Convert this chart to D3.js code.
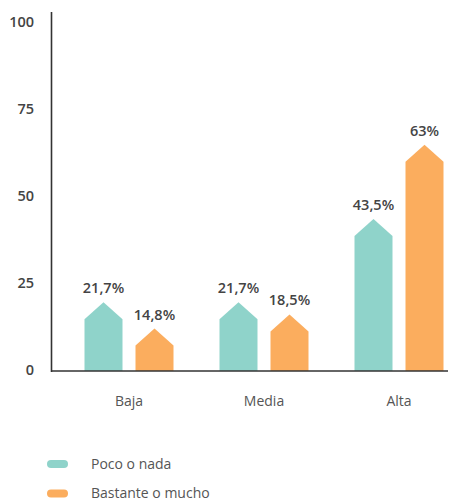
<!DOCTYPE html>
<html>
<head>
<meta charset="utf-8">
<script src="https://cdn.jsdelivr.net/npm/d3@7/dist/d3.min.js"></script>
<style>
  html, body { margin: 0; padding: 0; background: #ffffff; }
  svg { display: block; }
</style>
</head>
<body>
<svg id="chart" width="450" height="502"></svg>
<script>
// ---- Data ----
const categories = ["Baja", "Media", "Alta"];
const seriesNames = ["Poco o nada", "Bastante o mucho"];
const pocoValues = [21.7, 21.7, 43.5];
const bastanteValues = [14.8, 18.5, 63];
const pocoLabels = ["21,7%", "21,7%", "43,5%"];
const bastanteLabels = ["14,8%", "18,5%", "63%"];
const yTicks = [0, 25, 50, 75, 100];
const colors = ["#8fd3ca", "#fbad5e"];

// ---- Layout ----
const FONT = "'Open Sans', 'Liberation Sans', Arial, sans-serif";
const svg = d3.select("#chart");
const axisX = 51.5;
const baseY = 371;
const axisTop = 12;

const y = d3.scaleLinear().domain([0, 100]).range([370, 22]);
// bar heights as drawn in the reference graphic
const yBar = d3.scaleLinear().domain([0, 100]).range([385, 3.5]);

const x0 = d3.scaleBand().domain(categories).range([61.5, 466.5]).paddingInner(0).paddingOuter(0);
const x1 = d3.scaleBand().domain(seriesNames).range([-44.5, 44.5]).paddingInner(0.255).paddingOuter(0);
const color = d3.scaleOrdinal().domain(seriesNames).range(colors);

const rows = [];
categories.forEach((c, i) => {
  rows.push({cat: c, s: seriesNames[0], v: pocoValues[i], label: pocoLabels[i]});
  rows.push({cat: c, s: seriesNames[1], v: bastanteValues[i], label: bastanteLabels[i]});
});

// ---- Bars (house shape) ----
const bw = x1.bandwidth();
const roof = 17;
svg.append("g").selectAll("path").data(rows).join("path")
  .attr("fill", d => color(d.s))
  .attr("d", d => {
    const left = x0(d.cat) + x0.bandwidth() / 2 + x1(d.s);
    const right = left + bw;
    const peak = yBar(d.v);
    const shoulder = peak + roof;
    return `M${left},${baseY} L${left},${shoulder} L${left + bw / 2},${peak} L${right},${shoulder} L${right},${baseY} Z`;
  });

// ---- Value labels ----
svg.append("g").selectAll("text").data(rows).join("text")
  .attr("x", d => x0(d.cat) + x0.bandwidth() / 2 + x1(d.s) + bw / 2)
  .attr("y", d => yBar(d.v) - 9)
  .attr("text-anchor", "middle")
  .attr("font-family", FONT)
  .attr("font-weight", 600)
  .attr("font-size", 14.5)
  .attr("fill", "#444")
  .text(d => d.label);

// ---- Axes ----
svg.append("line")
  .attr("x1", axisX).attr("x2", axisX)
  .attr("y1", axisTop).attr("y2", baseY + 1)
  .attr("stroke", "#333").attr("stroke-width", 1.6);
svg.append("line")
  .attr("x1", axisX).attr("x2", 448)
  .attr("y1", baseY).attr("y2", baseY)
  .attr("stroke", "#333").attr("stroke-width", 1.6);

svg.append("g").selectAll("text").data(yTicks).join("text")
  .attr("x", 34)
  .attr("y", d => y(d))
  .attr("dy", "0.36em")
  .attr("text-anchor", "end")
  .attr("font-family", FONT)
  .attr("font-weight", 600)
  .attr("font-size", 14.5)
  .attr("fill", "#444")
  .text(d => d);

svg.append("g").selectAll("text").data(categories).join("text")
  .attr("x", d => x0(d) + x0.bandwidth() / 2)
  .attr("y", 406)
  .attr("text-anchor", "middle")
  .attr("font-family", FONT)
  .attr("font-size", 14)
  .attr("fill", "#555")
  .text(d => d);

// ---- Legend ----
const legend = svg.append("g").selectAll("g").data(seriesNames).join("g")
  .attr("transform", (d, i) => `translate(0,${464 + i * 29.5})`);
legend.append("rect")
  .attr("x", 47).attr("y", -4).attr("width", 21).attr("height", 8)
  .attr("rx", 4).attr("ry", 4)
  .attr("fill", d => color(d));
legend.append("text")
  .attr("x", 91).attr("y", 4.5)
  .attr("font-family", FONT)
  .attr("font-size", 14)
  .attr("fill", "#555")
  .text(d => d);
</script>
</body>
</html>
